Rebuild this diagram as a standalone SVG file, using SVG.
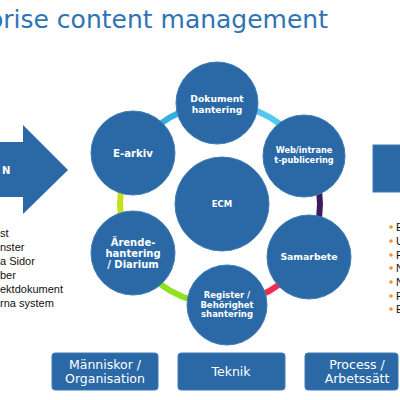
<svg xmlns="http://www.w3.org/2000/svg" width="400" height="400" viewBox="0 0 400 400">
<style>
.node{fill:#2a69a6;stroke:#3f7db8;stroke-width:1}
.lbl{fill:#fff;font-family:"DejaVu Sans",Verdana,sans-serif;font-weight:bold;text-anchor:middle}
.box{fill:#2a69a6;stroke:#3f7db8;stroke-width:1}
.btxt{fill:#fff;font-family:"DejaVu Sans",Verdana,sans-serif;font-size:12.5px;text-anchor:middle}
.list{fill:#111;font-family:"Liberation Sans",Arial,sans-serif;font-size:11px}
.arc{fill:none;stroke-width:6;stroke-linecap:butt}
.bul{fill:#f7931e}
</style>
<rect width="400" height="400" fill="#fff"/>
<text x="328" y="28" font-family="DejaVu Sans,Verdana,sans-serif" font-size="25" fill="#2e74b5" text-anchor="end">prise content management</text>

<g id="left-arrow">
<polygon points="-5,142 23,142 23,125 68,170 23,214 23,197 -5,197" fill="#2a69a6"/>
<text x="2" y="174" fill="#fff" font-family="DejaVu Sans,Verdana,sans-serif" font-weight="bold" font-size="10">N</text>
</g>
<g id="left-list">
<text class="list" x="0" y="237">st</text>
<text class="list" x="0" y="251">nster</text>
<text class="list" x="0" y="265">a Sidor</text>
<text class="list" x="0" y="279">ber</text>
<text class="list" x="0" y="293">ektdokument</text>
<text class="list" x="0" y="307">rna system</text>
</g>
<g id="right-box">
<rect x="373" y="145" width="40" height="47" fill="#2a69a6" stroke="#3f7db8"/>
</g>
<g id="right-list">
<circle class="bul" cx="391" cy="227" r="1.8"/><text class="list" x="396" y="231">E</text>
<circle class="bul" cx="391" cy="241" r="1.8"/><text class="list" x="396" y="245">U</text>
<circle class="bul" cx="391" cy="255" r="1.8"/><text class="list" x="396" y="259">P</text>
<circle class="bul" cx="391" cy="268" r="1.8"/><text class="list" x="396" y="272">N</text>
<circle class="bul" cx="391" cy="282" r="1.8"/><text class="list" x="396" y="286">N</text>
<circle class="bul" cx="391" cy="296" r="1.8"/><text class="list" x="396" y="300">P</text>
<circle class="bul" cx="391" cy="309" r="1.8"/><text class="list" x="396" y="313">E</text>
</g>

<g id="connectors">
<path class="arc" stroke="#55c8ee" d="M220,104 A100,100 0 0 1 306.6,154"/>
<path class="arc" stroke="#3d1c5c" d="M306.6,154 A100,100 0 0 1 306.6,254"/>
<path class="arc" stroke="#ef2d4e" d="M306.6,254 A100,100 0 0 1 220,304"/>
<path class="arc" stroke="#8ee31f" d="M220,304 A100,100 0 0 1 133.4,254"/>
<path class="arc" stroke="#c4e11c" d="M133.4,254 A100,100 0 0 1 133.4,154"/>
<path class="arc" stroke="#35aee3" d="M133.4,154 A100,100 0 0 1 220,104"/>
</g>

<g id="ecm"><circle class="node" cx="222" cy="204" r="47"/><text class="lbl" x="222" y="207" font-size="8.5">ECM</text></g>
<g id="dokument"><circle class="node" cx="217" cy="103" r="41"/><text class="lbl" x="217" y="102" font-size="9.2">Dokument</text><text class="lbl" x="217" y="113" font-size="9.2">hantering</text></g>
<g id="web"><circle class="node" cx="304" cy="156" r="41"/><text class="lbl" x="304" y="153" font-size="8.2">Web/intrane</text><text class="lbl" x="304" y="163" font-size="8.2">t-publicering</text></g>
<g id="samarbete"><circle class="node" cx="309" cy="257" r="42"/><text class="lbl" x="309" y="260" font-size="9.3">Samarbete</text></g>
<g id="register"><circle class="node" cx="227" cy="305" r="40"/><text class="lbl" x="227" y="298" font-size="8.5">Register /</text><text class="lbl" x="227" y="307.5" font-size="8.5">Behörighet</text><text class="lbl" x="227" y="317" font-size="8.5">shantering</text></g>
<g id="arende"><circle class="node" cx="133" cy="253" r="42"/><text class="lbl" x="133" y="246" font-size="10">Ärende-</text><text class="lbl" x="133" y="257" font-size="10">hantering</text><text class="lbl" x="133" y="268" font-size="10">/ Diarium</text></g>
<g id="earkiv"><circle class="node" cx="133" cy="153" r="42"/><text class="lbl" x="133" y="157" font-size="10.2">E-arkiv</text></g>

<g id="box-manniskor"><rect class="box" x="52" y="353" width="106" height="37" rx="3"/><text class="btxt" x="105" y="369">Människor /</text><text class="btxt" x="105" y="383">Organisation</text></g>
<g id="box-teknik"><rect class="box" x="178" y="353" width="107" height="37" rx="3"/><text class="btxt" x="231" y="376">Teknik</text></g>
<g id="box-process"><rect class="box" x="305" y="353" width="93" height="37" rx="3"/><text class="btxt" x="357" y="369">Process /</text><text class="btxt" x="357" y="383">Arbetssätt</text></g>
</svg>
